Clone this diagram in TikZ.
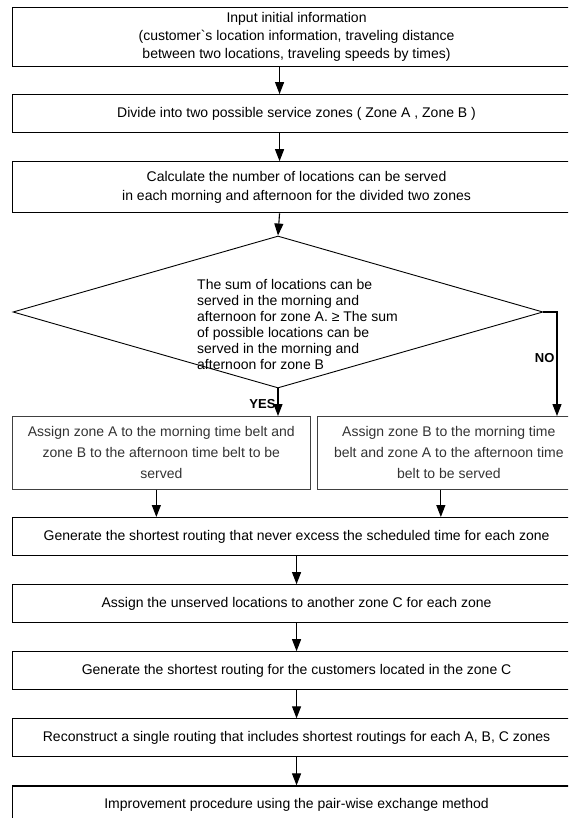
\documentclass[tikz,border=0pt]{standalone}
\usepackage{fontspec}
\setmainfont{Liberation Sans}
\usetikzlibrary{positioning, calc, shapes.geometric, arrows.meta}

\begin{document}
\begin{tikzpicture}[
        x=1pt, y=-1pt,
        node distance=27pt,
        font=\fontsize{14}{18}\selectfont,
        stepbox/.style={rectangle, draw, line width=1.1pt, minimum width=568pt, minimum height=38pt, inner sep=2pt, align=center},
        assignbox/.style={rectangle, draw=black!75, line width=0.7pt, minimum height=73pt, inner sep=2pt, align=center, text=black!80, font=\fontsize{14}{21}\selectfont},
        decision/.style={diamond, draw, line width=0.9pt, minimum width=530pt, minimum height=152pt, inner sep=0pt},
        answer/.style={font=\fontsize{13}{13}\selectfont\bfseries, inner sep=2pt},
        arrow/.style={-{Triangle[length=12pt, width=9pt]}, line width=1.1pt}
    ]

    \useasboundingbox (0,0) rectangle (568,818);
    \clip (0,0) rectangle (568,818);

    \node (init) [stepbox, anchor=north west, minimum height=59pt] at (12,7) {Input initial information\\(customer\textasciigrave s location information, traveling distance\\between two locations, traveling speeds by times)};
    \node (divide) [stepbox, below=of init] {Divide into two possible service zones ( Zone A , Zone B )};
    \node (count) [stepbox, below=28pt of divide, minimum height=51pt, font=\fontsize{14}{19}\selectfont] {Calculate the number of locations can be served\\in each morning and afternoon for the divided two zones};

    \node (cond) [decision] at (278,312) {};
    \node (condtext) [align=left, anchor=west, inner sep=0pt, font=\fontsize{14}{16}\selectfont] at (197,324) {The sum of locations can be\\served in the morning and\\afternoon for zone A. ≥ The sum\\of possible locations can be\\served in the morning and\\afternoon for zone B};

    \node (zoneA) [assignbox, anchor=north west, minimum width=298pt] at (12,416) {Assign zone A to the morning time belt and\\zone B to the afternoon time belt to be\\served};
    \node (zoneB) [assignbox, anchor=north west, minimum width=263pt] at (317,416) {Assign zone B to the morning time\\belt and zone A to the afternoon time\\belt to be served};

    \node (route) [stepbox, anchor=north west] at (12,517) {Generate the shortest routing that never excess the scheduled time for each zone};
    \node (unserved) [stepbox, below=28pt of route] {Assign the unserved locations to another zone C for each zone};
    \node (zoneC) [stepbox, below=28pt of unserved] {Generate the shortest routing for the customers located in the zone C};
    \node (merge) [stepbox, below=28pt of zoneC] {Reconstruct a single routing that includes shortest routings for each A, B, C zones};
    \node (improve) [stepbox, below=28pt of merge] {Improvement procedure using the pair-wise exchange method};

    \draw [arrow] ([xshift=-17pt]init.south) -- ([xshift=-17pt]divide.north);
    \draw [arrow] ([xshift=-17pt]divide.south) -- ([xshift=-17pt]count.north);
    \draw [arrow] ([xshift=-17pt]count.south) -- (cond.north);

    \draw [arrow] (cond.south) -- node[answer, left, pos=0.55] {YES} (cond.south |- zoneA.north);
    \draw [arrow] (cond.east) -| node[answer, left, pos=0.72] {NO} ([xshift=240pt]zoneB.north west);

    \draw [arrow] ([xshift=-5pt]zoneA.south) -- ([xshift=-5pt]zoneA.south |- route.north);
    \draw [arrow] ([xshift=-8pt]zoneB.south) -- ([xshift=-8pt]zoneB.south |- route.north);

    \draw [arrow] (route) -- (unserved);
    \draw [arrow] (unserved) -- (zoneC);
    \draw [arrow] (zoneC) -- (merge);
    \draw [arrow] (merge) -- (improve);

\end{tikzpicture}
\end{document}
